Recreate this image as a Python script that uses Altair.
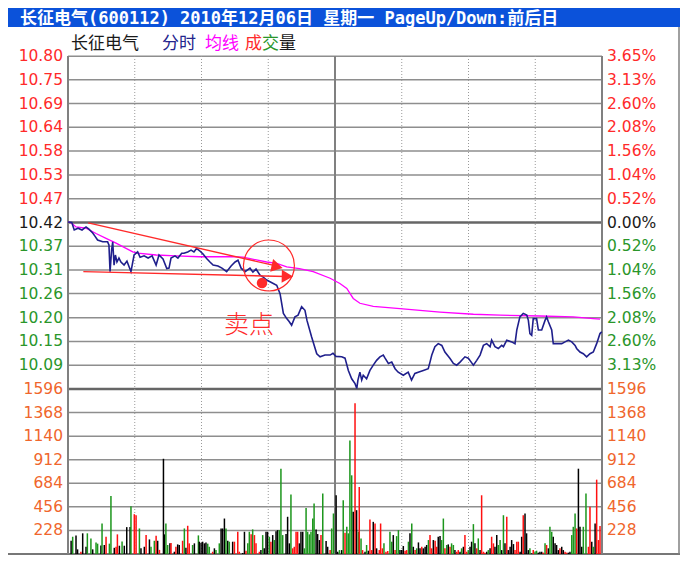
import altair as alt
import pandas as pd

W, H = 675, 549

# ---------------- data ----------------
title_text = "长征电气(600112)  2010年12月06日  星期一  PageUp/Down:前后日"

price_ticks = [10.799, 10.745, 10.691, 10.637, 10.583, 10.528, 10.474, 10.420,
               10.366, 10.312, 10.258, 10.203, 10.149, 10.095]
price_labels = ["10.80", "10.75", "10.69", "10.64", "10.58", "10.53", "10.47", "10.42",
                "10.37", "10.31", "10.26", "10.20", "10.15", "10.09"]
pct_labels = ["3.65%", "3.13%", "2.60%", "2.08%", "1.56%", "1.04%", "0.52%", "0.00%",
              "0.52%", "1.04%", "1.56%", "2.08%", "2.60%", "3.13%"]
tick_side = ["up"] * 7 + ["flat"] + ["down"] * 6
vol_ticks = [1596, 1368, 1140, 912, 684, 456, 228]
vol_labels = ["1596", "1368", "1140", "912", "684", "456", "228"]
time_dotted = [30, 60, 90, 150, 180, 210]
time_solid = [0, 120, 240]
P_LO, P_HI = 10.0407, 10.7993
V_HI = 1596

# minute-by-minute price (分时) sampled
price_min = [0, 1.7, 2.8, 4.5, 6.3, 8.1, 9.4, 11.1, 12.1, 13.3, 15.6, 17.8, 18.4, 18.9, 19.6, 20.1,
             20.7, 21.3, 22.0, 22.9, 23.8, 25.2, 26.5, 28.3, 29.7, 31.3, 32.4, 34.2, 36.0, 37.8,
             39.6, 40.9, 42.7, 44.4, 45.4, 46.3, 48.1, 49.4, 51.1, 52.1, 53.8, 55.3, 56.6, 57.8,
             59.3, 60.7, 62.3, 63.8, 65.2, 67.4, 69.2, 71.3, 73.3, 75.1, 76.4, 77.8, 79.6, 81.8,
             83.1, 84.5, 86.3, 87.6, 89.3, 91.2, 93.8, 95.3, 96.8, 98.3, 99.3, 100.5, 102.0, 103.4,
             105.0, 106.5, 107.4, 109.5, 111.8, 113.3, 115.5, 117.8, 119.1, 120.4, 123.0, 124.5,
             126.0, 127.5, 129.0, 129.8, 130.3, 131.2, 132.0, 132.7, 134.2, 135.7, 137.2, 138.7,
             140.2, 141.7, 142.5, 144.0, 145.5, 147.0, 148.4, 150.7, 152.9, 154.4, 155.9, 157.4,
             159.7, 161.9, 162.7, 163.5, 164.9, 166.4, 168.0, 169.4, 171.7, 173.2, 174.7, 176.2,
             178.4, 179.9, 182.2, 183.7, 185.2, 186.7, 188.2, 189.7, 190.4, 191.9, 193.4, 194.9,
             195.7, 197.2, 199.4, 200.9, 201.7, 203.1, 204.6, 206.2, 206.9, 207.6, 208.4, 209.1,
             210.6, 211.4, 212.9, 214.4, 215.1, 215.9, 217.4, 218.1, 219.6, 221.9, 223.4, 224.9,
             226.4, 227.9, 228.6, 230.1, 231.6, 233.1, 234.6, 236.1, 237.6, 239.1, 239.9]
price_val = [10.421, 10.420, 10.403, 10.407, 10.403, 10.410, 10.405, 10.396, 10.389, 10.380,
             10.376, 10.376, 10.369, 10.308, 10.357, 10.376, 10.323, 10.346, 10.330, 10.339,
             10.330, 10.323, 10.332, 10.308, 10.346, 10.353, 10.341, 10.344, 10.339, 10.344,
             10.323, 10.346, 10.337, 10.315, 10.316, 10.339, 10.344, 10.339, 10.350, 10.350,
             10.353, 10.357, 10.353, 10.361, 10.355, 10.348, 10.338, 10.330, 10.323, 10.321,
             10.316, 10.308, 10.321, 10.330, 10.334, 10.316, 10.308, 10.316, 10.307, 10.314,
             10.300, 10.296, 10.289, 10.284, 10.277, 10.258, 10.213, 10.201, 10.195, 10.186,
             10.205, 10.209, 10.228, 10.220, 10.197, 10.159, 10.121, 10.114, 10.118, 10.118,
             10.122, 10.115, 10.114, 10.111, 10.083, 10.064, 10.053, 10.042, 10.061, 10.079,
             10.061, 10.072, 10.064, 10.083, 10.095, 10.106, 10.114, 10.118, 10.111, 10.099,
             10.102, 10.087, 10.079, 10.072, 10.079, 10.061, 10.076, 10.079, 10.083, 10.087,
             10.102, 10.118, 10.137, 10.144, 10.140, 10.125, 10.110, 10.099, 10.095, 10.102,
             10.114, 10.111, 10.095, 10.106, 10.118, 10.140, 10.144, 10.137, 10.152, 10.137,
             10.133, 10.140, 10.137, 10.152, 10.148, 10.144, 10.175, 10.205, 10.213, 10.209,
             10.197, 10.167, 10.163, 10.201, 10.201, 10.175, 10.175, 10.197, 10.205, 10.194,
             10.175, 10.144, 10.144, 10.144, 10.148, 10.152, 10.148, 10.140, 10.133, 10.125,
             10.121, 10.114, 10.121, 10.125, 10.144, 10.167, 10.171]

# average price (均线)
avg_min = [0, 1.3, 3.6, 8.1, 12.6, 17.1, 21.6, 26.1, 29.1, 31.3, 39.6, 48.5, 59.0, 74.3, 78.7,
           89.3, 93.8, 98.3, 104.0, 110.2, 117.8, 122.2, 125.3, 128.2, 131.2, 137.2, 149.2,
           167.2, 182.2, 194.2, 212.1, 227.1, 236.1, 239.1]
avg_val = [10.421, 10.420, 10.410, 10.407, 10.395, 10.384, 10.373, 10.361, 10.353, 10.350,
           10.346, 10.344, 10.342, 10.342, 10.341, 10.330, 10.327, 10.319, 10.315, 10.308,
           10.293, 10.281, 10.270, 10.247, 10.236, 10.229, 10.224, 10.216, 10.211, 10.209,
           10.207, 10.205, 10.201, 10.200]

# volume (成交量), morning: minute, volume, colour code (r up, g down, k flat)
vol_min_am = [1.4, 2.1, 3.6, 4.3, 5.8, 6.6, 8.1, 8.7, 10.3, 11.1,
              12.6, 13.3, 14.8, 15.3, 16.3, 17.1, 18.6, 19.3, 20.8, 21.6,
              22.2, 23.1, 24.3, 25.3, 26.4, 27.9, 28.3, 29.8, 30.6, 32.1,
              32.8, 34.3, 35.1, 36.6, 37.3, 38.8, 39.6, 40.3, 41.1, 42.9,
              43.3, 44.0, 44.8, 45.8, 46.3, 47.8, 48.5, 49.3, 50.0, 51.5,
              52.3, 53.0, 53.8, 54.5, 56.0, 56.8, 58.6, 59.0, 59.8, 60.5,
              61.3, 62.0, 62.8, 63.5, 65.0, 65.8, 66.5, 68.0, 68.8, 69.5,
              70.3, 71.0, 71.8, 72.5, 74.0, 74.8, 76.3, 77.0, 78.5, 79.3,
              80.0, 80.8, 81.5, 82.3, 83.0, 83.8, 84.5, 86.0, 86.7, 87.5,
              88.2, 89.0, 89.7, 90.5, 91.2, 92.0, 92.7, 93.5, 94.2, 95.0,
              95.7, 96.5, 98.0, 98.7, 99.5, 100.2, 101.0, 101.7, 102.5, 103.2,
              104.0, 104.7, 105.5, 106.2, 107.0, 107.7, 108.5, 109.2, 110.0, 110.6,
              111.5, 112.2, 113.0, 113.7, 114.5, 116.0, 116.7, 117.8, 118.5, 119.3]
vol_val_am = [128, 167, 180, 45, 22, 200, 70, 200, 150, 45,
              112, 100, 83, 295, 87, 167, 100, 562, 60, 70,
              190, 80, 120, 80, 260, 260, 462, 385, 375, 247,
              55, 70, 183, 141, 70, 128, 177, 128, 40, 921,
              190, 295, 87, 103, 106, 22, 70, 93, 87, 128,
              247, 61, 273, 103, 87, 103, 180, 119, 109, 119,
              103, 112, 100, 70, 22, 55, 38, 103, 247, 247,
              343, 247, 128, 119, 119, 119, 215, 22, 10, 215,
              32, 103, 215, 190, 238, 183, 103, 22, 38, 183,
              55, 215, 215, 167, 119, 183, 135, 221, 231, 231,
              825, 183, 193, 360, 103, 575, 55, 70, 215, 215,
              103, 215, 215, 55, 446, 215, 190, 215, 343, 488,
              238, 193, 135, 183, 585, 125, 70, 38, 247, 392]
vol_col_am = ("kgkkrkkggk" "ggkgkrggkr" "rkgkkkgrrg" "kkrkggrkrk" "kggkrkrkkr"
              "gkrrgkgkkk" "kkggrkggkk" "kgkgkrrrkk" "rggrgrrrkg" "kkkgrkgkkg"
              "ggkkkgrrrr" "kkkggggggg" "kkkrgkkrgg")

# volume, afternoon
vol_min_pm = [120.5, 121.2, 122.0,
              123.0, 123.7, 124.5, 125.3, 126.0, 126.7, 127.5, 128.2, 129.0, 129.7,
              130.5, 130.9, 131.7, 132.4, 133.5, 134.2, 135.0, 135.7, 136.5, 137.2,
              138.0, 138.7, 139.9, 140.5, 141.3, 142.0, 142.9, 143.7, 144.7, 145.5,
              146.2, 147.0, 147.7, 148.5, 149.2, 150.0, 150.7, 151.5, 152.2, 153.0,
              153.7, 154.5, 155.2, 156.0, 156.7, 157.5, 158.2, 159.0, 159.7, 160.5,
              161.2, 162.0, 162.7, 163.4, 164.2, 165.0, 165.7, 166.4, 167.2, 167.9,
              168.7, 169.4, 170.2, 170.9, 171.7, 172.4, 173.2, 173.9, 174.7, 175.4,
              176.2, 176.9, 177.7, 178.4, 179.2, 179.9, 180.7, 181.4, 182.2, 182.9,
              183.7, 184.4, 185.2, 185.9, 186.7, 187.4, 188.2, 188.9, 189.7, 190.4,
              191.2, 191.9, 192.7, 193.4, 194.2, 194.9, 195.7, 196.4, 197.2, 197.9,
              198.7, 199.4, 200.2, 200.9, 201.7, 202.4, 203.2, 203.9, 204.6, 205.4,
              206.1, 206.9, 207.6, 208.4, 209.1, 209.9, 210.6, 211.4, 212.1, 212.9,
              213.6, 214.4, 215.1, 215.9, 216.6, 217.4, 218.1, 218.9, 219.6, 220.4,
              221.1, 221.9, 222.6, 223.4, 224.1, 224.9, 225.6, 226.4, 227.1, 227.9,
              228.6, 229.4, 230.1, 230.9, 231.6, 232.8, 233.9, 234.6, 235.4, 236.1,
              236.9, 237.6, 238.4, 239.1]
vol_val_pm = [568, 22, 38,
              38, 520, 205, 263, 200, 1098, 761, 408, 1457, 424,
              215, 648, 151, 38, 22, 87, 32, 334, 38, 311,
              295, 55, 38, 295, 55, 103, 22, 29, 215, 119,
              183, 38, 173, 231, 38, 38, 77, 32, 38, 119,
              200, 295, 70, 38, 55, 112, 55, 70, 55, 70,
              87, 135, 183, 55, 135, 128, 70, 167, 173, 135,
              343, 55, 87, 93, 70, 103, 87, 38, 22, 38,
              22, 55, 70, 183, 22, 38, 70, 119, 289, 103,
              55, 151, 38, 568, 22, 13, 22, 38, 55, 167,
              103, 70, 183, 87, 135, 38, 375, 103, 360, 38,
              70, 135, 96, 38, 119, 119, 22, 167, 375, 392,
              200, 38, 55, 6, 38, 22, 32, 13, 22, 22,
              13, 103, 87, 55, 263, 215, 167, 103, 87, 38,
              55, 70, 38, 22, 13, 13, 22, 183, 263, 392,
              247, 825, 263, 70, 263, 585, 70, 456, 119, 70,
              295, 719, 135, 270]
vol_col_pm = ("kkg"
              "kgrggggkrk" "grgrkgkrrk" "rkrrrgrrgg" "krggkkkrrg" "kgkrgkkrkk"
              "kgrrkrrkkg" "grgkrggkrr" "kgkrrgkkgk" "rgkrrrkgkr" "rkkggkgkrk"
              "kkkrrrkkrk" "kkgkrggkkk" "rgrkggkkkk" "rkkrrkkggg" "rkkkggrrkg"
              "krrr")

# annotation (drawn in data units)
ann_lines = {"t1": [9.1, 6.9], "p1": [10.419, 10.308], "t2": [94.5, 98.0], "p2": [10.320, 10.297]}
ann_heads = {"t": [94.0, 98.6], "p": [10.3195, 10.2975], "ang": [13, 1.3]}
ring = {"t": [90.3], "p": [10.322]}
sell_dot = {"t": [87.2], "p": [10.282]}
sell_text = {"t": [81.3], "p": [10.186], "txt": ["卖点"]}

legend_items = ["长征电气", "分时", "均线", "成", "交", "量"]

# ---------------- styling ----------------
RED = "#ff2a2a"
GREEN = "#2a962a"
BLACK = "#1a1a1a"
ORANGE = "#f0662c"
GRID = "#8e8e8e"
side_color = {"up": RED, "flat": BLACK, "down": GREEN}
bar_color = {"r": "#ff1010", "g": "#1c961c", "k": "#000000"}

xs = alt.Scale(domain=[0, 240], range=[60, 594], zero=False, nice=False)
py = alt.Scale(domain=[P_LO, P_HI], range=[381, 48], zero=False, nice=False)
vy = alt.Scale(domain=[0, V_HI], range=[546, 381], zero=False, nice=False)

one = pd.DataFrame({"a": [0]})


def X(field):
    return alt.X(field, type="quantitative", scale=xs, axis=None)


def PY(field):
    return alt.Y(field, type="quantitative", scale=py, axis=None)


def VY(field):
    return alt.Y(field, type="quantitative", scale=vy, axis=None)


layers = []

# title bar
layers.append(alt.Chart(one).mark_rect(color="#0b52da").encode(
    x=alt.value(0), x2=alt.value(672), y=alt.value(0), y2=alt.value(19)))
layers.append(alt.Chart(pd.DataFrame({"txt": [title_text]})).mark_text(
    align="left", baseline="middle", color="white", fontSize=17, fontWeight="bold",
    font="DejaVu Sans Mono, Noto Sans CJK SC").encode(
    x=alt.value(12), y=alt.value(10.5), text="txt:N"))

# legend
leg_x = [63, 154, 197, 237, 254, 271]
leg_c = [BLACK, "#24248c", "#ff00ff", RED, GREEN, BLACK]
for t, xv, cv in zip(legend_items, leg_x, leg_c):
    layers.append(alt.Chart(pd.DataFrame({"txt": [t]})).mark_text(
        align="left", baseline="middle", color=cv, fontSize=17,
        font="Noto Sans CJK SC").encode(x=alt.value(xv), y=alt.value(36), text="txt:N"))

# horizontal grid (price)
pg = pd.DataFrame({"p": price_ticks + [P_LO],
                   "w": [1.5] * 7 + [2.5] + [1.5] * 6 + [2.5],
                   "c": [GRID] * 7 + ["#666666"] + [GRID] * 6 + ["#666666"]})
layers.append(alt.Chart(pg).mark_rule().encode(
    y=PY("p"), x=alt.value(60), x2=alt.value(594),
    strokeWidth=alt.StrokeWidth("w:Q", scale=None), color=alt.Color("c:N", scale=None)))

# horizontal grid (volume)
vg = pd.DataFrame({"v": vol_ticks[1:]})
layers.append(alt.Chart(vg).mark_rule(color=GRID, strokeWidth=1.5).encode(
    y=VY("v"), x=alt.value(60), x2=alt.value(594)))
layers.append(alt.Chart(pd.DataFrame({"v": [0]})).mark_rule(color="#777777", strokeWidth=2).encode(
    y=VY("v"), x=alt.value(0), x2=alt.value(672)))

# vertical grid
layers.append(alt.Chart(pd.DataFrame({"t": time_dotted})).mark_rule(
    color="#9a9a9a", strokeWidth=1, strokeDash=[1, 2]).encode(
    x=X("t"), y=alt.value(48), y2=alt.value(546)))
layers.append(alt.Chart(pd.DataFrame({"t": time_solid})).mark_rule(
    color="#808080", strokeWidth=2).encode(x=X("t"), y=alt.value(48), y2=alt.value(546)))
layers.append(alt.Chart(one).mark_rule(color="#808080", strokeWidth=1.5).encode(
    x=alt.value(671), y=alt.value(19), y2=alt.value(546)))

# axis labels
lab = pd.DataFrame({"p": price_ticks, "lab": price_labels, "pct": pct_labels,
                    "c": [side_color[s] for s in tick_side]})
layers.append(alt.Chart(lab).mark_text(align="right", baseline="middle", fontSize=15.5,
                                       font="DejaVu Sans").encode(
    y=PY("p"), x=alt.value(55), text="lab:N", color=alt.Color("c:N", scale=None)))
layers.append(alt.Chart(lab).mark_text(align="left", baseline="middle", fontSize=15.5,
                                       font="DejaVu Sans").encode(
    y=PY("p"), x=alt.value(599), text="pct:N", color=alt.Color("c:N", scale=None)))
vlab = pd.DataFrame({"v": vol_ticks, "lab": vol_labels})
layers.append(alt.Chart(vlab).mark_text(align="right", baseline="middle", fontSize=15.5,
                                        font="DejaVu Sans", color=ORANGE).encode(
    y=VY("v"), x=alt.value(55), text="lab:N"))
layers.append(alt.Chart(vlab).mark_text(align="left", baseline="middle", fontSize=15.5,
                                        font="DejaVu Sans", color=ORANGE).encode(
    y=VY("v"), x=alt.value(599), text="lab:N"))

# volume bars
vd = pd.DataFrame({"t": vol_min_am + vol_min_pm, "v": vol_val_am + vol_val_pm,
                   "c": [bar_color[ch] for ch in vol_col_am + vol_col_pm]})
layers.append(alt.Chart(vd).mark_rule(strokeWidth=1.5).encode(
    x=X("t"), y=VY("v"), y2=alt.datum(0), color=alt.Color("c:N", scale=None)))

# price and average lines
layers.append(alt.Chart(pd.DataFrame({"t": avg_min, "p": avg_val})).mark_line(
    color="#ff00ff", strokeWidth=1.3).encode(x=X("t"), y=PY("p")))
layers.append(alt.Chart(pd.DataFrame({"t": price_min, "p": price_val})).mark_line(
    color="#1f1f8c", strokeWidth=1.6).encode(x=X("t"), y=PY("p")))

# annotations
layers.append(alt.Chart(pd.DataFrame(ann_lines)).mark_rule(color=RED, strokeWidth=1.4).encode(
    x=X("t1"), x2="t2", y=PY("p1"), y2="p2"))
layers.append(alt.Chart(pd.DataFrame(ann_heads)).mark_point(
    shape="triangle-right", filled=True, size=170, color=RED, opacity=1).encode(
    x=X("t"), y=PY("p"), angle=alt.Angle("ang:Q", scale=None)))
layers.append(alt.Chart(pd.DataFrame(ring)).mark_point(
    shape="circle", filled=False, size=2600, color=RED, strokeWidth=1.2, opacity=1).encode(
    x=X("t"), y=PY("p")))
layers.append(alt.Chart(pd.DataFrame(sell_dot)).mark_point(
    shape="circle", filled=True, size=110, color=RED, opacity=1).encode(x=X("t"), y=PY("p")))
layers.append(alt.Chart(pd.DataFrame(sell_text)).mark_text(
    fontSize=25, color=RED, font="Noto Sans CJK SC", fontWeight=300,
    baseline="middle", align="center").encode(
    x=X("t"), y=PY("p"), text="txt:N"))

chart = alt.layer(*layers).resolve_scale(y="independent").properties(
    width=W, height=H, autosize=alt.AutoSizeParams(type="none"), padding=0,
    background="white"
).configure_view(strokeWidth=0)

chart.save("out.html", embed_options={"renderer": "svg", "actions": False})
